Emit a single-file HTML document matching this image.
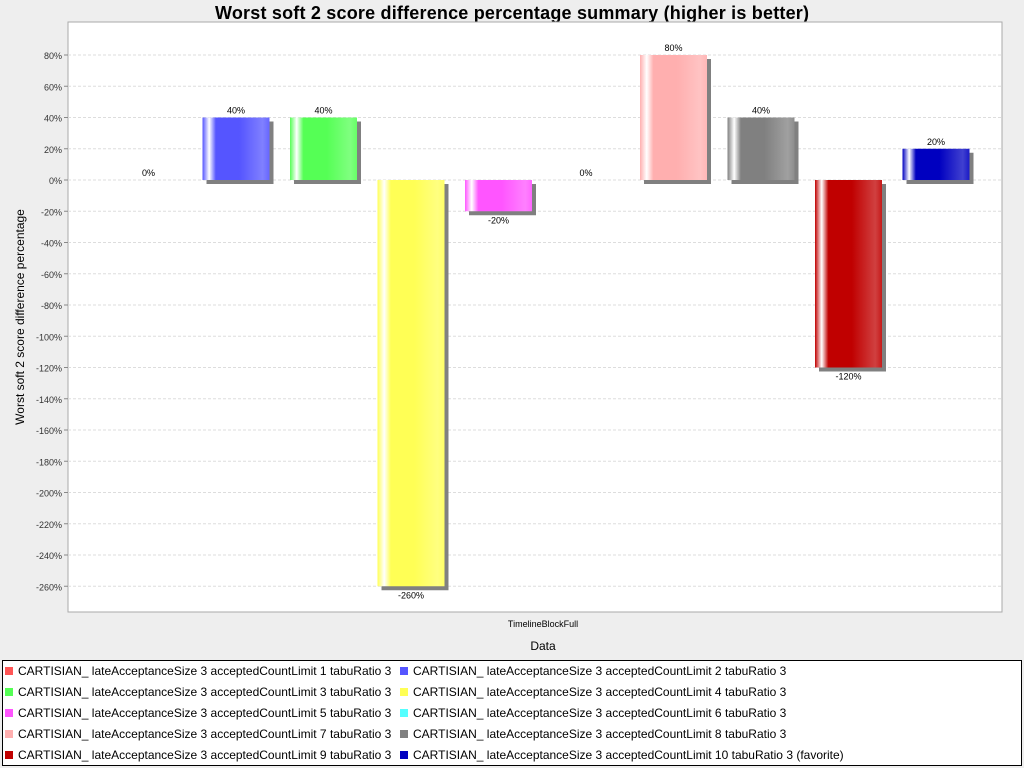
<!DOCTYPE html>
<html><head><meta charset="utf-8"><style>
body{margin:0;background:#eeeeee;font-family:"Liberation Sans",sans-serif}
svg{display:block}
</style></head><body>
<svg id="c" width="1024" height="768" xmlns="http://www.w3.org/2000/svg">
<defs></defs>
<text x="512" y="19" text-anchor="middle" font-size="18" font-weight="bold" fill="#000" textLength="594">Worst soft 2 score difference percentage summary (higher is better)</text>
<rect x="68" y="22" width="934" height="590" fill="#fff" stroke="#aaa"/>
<g id="grid"></g><g id="bars"></g><g id="axis"></g>
<text x="24" y="317" transform="rotate(-90 24 317)" text-anchor="middle" font-size="12" fill="#000">Worst soft 2 score difference percentage</text>
<text x="543" y="627" text-anchor="middle" font-size="9" fill="#000">TimelineBlockFull</text>
<text x="543" y="650" text-anchor="middle" font-size="12" fill="#000">Data</text>
<rect x="2.5" y="660.5" width="1019" height="105" fill="#fff" stroke="#000"/>
<g id="legend"></g>
</svg>
<script>
const series=["CARTISIAN_ lateAcceptanceSize 3 acceptedCountLimit 1 tabuRatio 3","CARTISIAN_ lateAcceptanceSize 3 acceptedCountLimit 2 tabuRatio 3","CARTISIAN_ lateAcceptanceSize 3 acceptedCountLimit 3 tabuRatio 3","CARTISIAN_ lateAcceptanceSize 3 acceptedCountLimit 4 tabuRatio 3","CARTISIAN_ lateAcceptanceSize 3 acceptedCountLimit 5 tabuRatio 3","CARTISIAN_ lateAcceptanceSize 3 acceptedCountLimit 6 tabuRatio 3","CARTISIAN_ lateAcceptanceSize 3 acceptedCountLimit 7 tabuRatio 3","CARTISIAN_ lateAcceptanceSize 3 acceptedCountLimit 8 tabuRatio 3","CARTISIAN_ lateAcceptanceSize 3 acceptedCountLimit 9 tabuRatio 3","CARTISIAN_ lateAcceptanceSize 3 acceptedCountLimit 10 tabuRatio 3 (favorite)"];
const values=[0,40,40,-260,-20,0,80,40,-120,20];
const colors=["#ff5555","#5555ff","#55ff55","#ffff55","#ff55ff","#55ffff","#ffafaf","#808080","#c00000","#0000c0"];
const ticks=[80,60,40,20,0,-20,-40,-60,-80,-100,-120,-140,-160,-180,-200,-220,-240,-260];
const NS="http://www.w3.org/2000/svg";
const y=v=>180-v*1.5625;
const x=i=>115+i*87.5;
const BW=67;
function mk(t,a,p){const e=document.createElementNS(NS,t);for(const k in a)e.setAttribute(k,a[k]);p.appendChild(e);return e;}
const grid=document.getElementById('grid'),axis=document.getElementById('axis'),bars=document.getElementById('bars'),defs=document.querySelector('defs'),leg=document.getElementById('legend');
ticks.forEach(t=>{
 const l=mk('line',{x1:68,x2:1002,y1:y(t),y2:y(t),stroke:'#ddd','stroke-dasharray':'3,2'},grid);
 
 
 const k=mk('line',{x1:64,x2:68,y1:y(t),y2:y(t),stroke:'#888'},axis);
 
 
 const tx=mk('text',{x:62,y:y(t)+4,'text-anchor':'end','font-size':9,fill:'#333'},axis);
 tx.textContent=t+'%';
 
 
});
function lighten(c,f){const n=parseInt(c.slice(1),16);let r=n>>16,g=n>>8&255,b=n&255;return `rgb(${Math.round(r+(255-r)*f)},${Math.round(g+(255-g)*f)},${Math.round(b+(255-b)*f)})`;}
values.forEach((v,i)=>{
 const gid='g'+i;
 const g=mk('linearGradient',{id:gid,x1:0,x2:1,y1:0,y2:0},defs);
 [[0,colors[i]],[0.1,'#fff'],[0.2,colors[i]],[0.55,colors[i]],[0.9,lighten(colors[i],0.25)],[1,lighten(colors[i],0.1)]].forEach(s=>mk('stop',{offset:s[0],'stop-color':s[1]},g));
 const top=Math.min(y(v),y(0)),h=Math.abs(y(v)-y(0));
 if(h>0){
  const s=mk('rect',{x:x(i)+4,y:top+4,width:BW,height:h,fill:'#808080'},bars);
  
  
  const r=mk('rect',{x:x(i),y:top,width:BW,height:h,fill:`url(#${gid})`},bars);
  
  
 }
 const lt=mk('text',{x:x(i)+BW/2,y:v>=0?y(v)-4:y(v)+12,'text-anchor':'middle','font-size':9,fill:'#000'},bars);
 lt.textContent=v+'%';
 
 
 const col=i%2,row=Math.floor(i/2);
 const lx=col?400:5,ly=667+row*21;
 const sq=mk('rect',{x:lx,y:ly,width:8,height:8,fill:colors[i]},leg);
 
 
 const ltx=mk('text',{x:lx+13,y:ly+8,'font-size':12,fill:'#000'},leg);
 ltx.textContent=series[i];
 
 
});
</script>
</body></html>
